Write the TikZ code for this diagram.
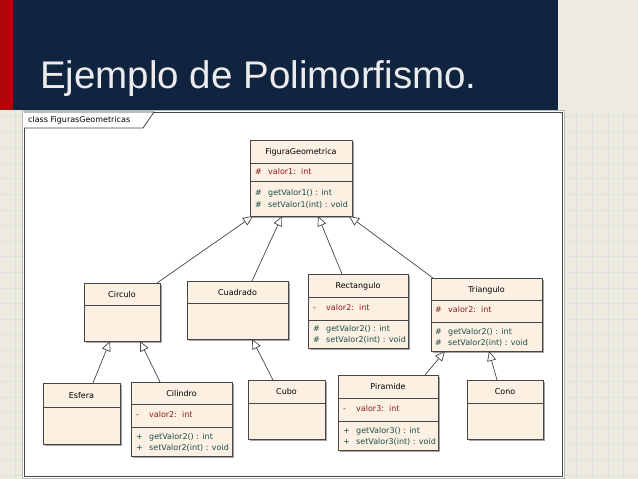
\documentclass[tikz,border=0pt]{standalone}
\usepackage{fontspec}
\setmainfont{Liberation Sans}
\newfontfamily\umlfont{DejaVu Sans}
\usetikzlibrary{arrows.meta,shadows}
\definecolor{slidenavy}{RGB}{16,35,63}
\definecolor{slidered}{RGB}{176,8,8}
\definecolor{paperbeige}{RGB}{237,234,223}
\definecolor{gridblue}{RGB}{221,225,228}
\definecolor{boxfill}{RGB}{251,240,226}
\definecolor{boxline}{RGB}{70,70,70}
\definecolor{attrred}{RGB}{140,28,28}
\definecolor{opteal}{RGB}{28,78,72}
\tikzset{
  umlbox/.style={draw=boxline, line width=0.9pt, fill=boxfill, inner sep=0pt, outer sep=0pt,
    drop shadow={shadow xshift=2pt, shadow yshift=-2pt, fill=black!50, opacity=0.7}},
  umlline/.style={draw=boxline, line width=0.8pt},
  umltext/.style={font=\umlfont\fontsize{8}{9}\selectfont, inner sep=0pt},
  attrtext/.style={umltext, text=attrred, anchor=mid west},
  optext/.style={umltext, text=opteal, anchor=mid west},
  inherit/.style={draw=boxline, line width=0.7pt, -{Triangle[length=10pt, width=9pt, fill=white]}}
}
\begin{document}
\begin{tikzpicture}[x=1pt,y=-1pt]
\useasboundingbox (0,0) rectangle (638,479);
% slide background
\fill[paperbeige] (0,0) rectangle (638,479);
\foreach \gx in {15,30.6,...,638} \draw[gridblue, line width=0.5pt] (\gx,110) -- (\gx,479);
\foreach \gy in {116.2,131.8,...,479} \draw[gridblue, line width=0.5pt] (0,\gy) -- (638,\gy);
\fill[slidenavy] (13,0) rectangle (558,110);
\fill[slidered] (0,0) rectangle (13,110);
\node[anchor=base west, inner sep=0pt, text={rgb,255:red,236;green,236;blue,236},
  font=\fontsize{38.5}{44}\selectfont] (title) at (40,88) {Ejemplo de Polimorfismo.};
% diagram frame
\draw[gray!55, fill=white] (22,110) rectangle (564,478);
\draw[boxline, line width=0.8pt] (24,112) rectangle (562,476);
\draw[boxline, line width=0.8pt, fill=white] (24,112) -- (154,112) -- (143,128) -- (24,128);
\node[umltext, anchor=mid west] (pkg) at (28,120) {class FigurasGeometricas};
% FiguraGeometrica
\node[umlbox, minimum width=102pt, minimum height=76pt] (fg) at (301,178) {};
\draw[umlline] (250,163) -- (352,163);
\draw[umlline] (250,181) -- (352,181);
\node[umltext, anchor=mid] (fg-name) at (301,152) {FiguraGeometrica};
\node[attrtext] (fg-v1) at (255,172) {\#};
\node[attrtext] (fg-a1) at (268,172) {valor1:\ \ int};
\node[optext] (fg-v2) at (255,193) {\#};
\node[optext] (fg-m1) at (268,193) {getValor1() : int};
\node[optext] (fg-v3) at (255,205) {\#};
\node[optext] (fg-m2) at (268,205) {setValor1(int) : void};
% Circulo
\node[umlbox, minimum width=76pt, minimum height=58pt] (circulo) at (122,312) {};
\draw[umlline] (84,305) -- (160,305);
\node[umltext, anchor=mid] (circulo-name) at (122,295) {Circulo};
% Cuadrado
\node[umlbox, minimum width=101pt, minimum height=58pt] (cuadrado) at (237.5,310) {};
\draw[umlline] (187,303) -- (288,303);
\node[umltext, anchor=mid] (cuadrado-name) at (237.5,293) {Cuadrado};
% Rectangulo
\node[umlbox, minimum width=100pt, minimum height=74pt] (rectangulo) at (358,311) {};
\draw[umlline] (308,297) -- (408,297);
\draw[umlline] (308,320) -- (408,320);
\node[umltext, anchor=mid] (rectangulo-name) at (358,286) {Rectangulo};
\node[attrtext] (rectangulo-v1) at (313,308) {-};
\node[attrtext] (rectangulo-a1) at (326,308) {valor2:\ \ int};
\node[optext] (rectangulo-v2) at (313,329) {\#};
\node[optext] (rectangulo-m1) at (326,329) {getValor2() : int};
\node[optext] (rectangulo-v3) at (313,340) {\#};
\node[optext] (rectangulo-m2) at (326,340) {setValor2(int) : void};
% Triangulo
\node[umlbox, minimum width=111pt, minimum height=73pt] (triangulo) at (486.5,314.5) {};
\draw[umlline] (431,300) -- (542,300);
\draw[umlline] (431,322) -- (542,322);
\node[umltext, anchor=mid] (triangulo-name) at (486.5,290) {Triangulo};
\node[attrtext] (triangulo-v1) at (435,310) {\#};
\node[attrtext] (triangulo-a1) at (448,310) {valor2:\ \ int};
\node[optext] (triangulo-v2) at (435,332) {\#};
\node[optext] (triangulo-m1) at (448,332) {getValor2() : int};
\node[optext] (triangulo-v3) at (435,343) {\#};
\node[optext] (triangulo-m2) at (448,343) {setValor2(int) : void};
% Esfera
\node[umlbox, minimum width=77pt, minimum height=61pt] (esfera) at (81.5,413.5) {};
\draw[umlline] (43,407) -- (120,407);
\node[umltext, anchor=mid] (esfera-name) at (81.5,396) {Esfera};
% Cilindro
\node[umlbox, minimum width=101pt, minimum height=74pt] (cilindro) at (181.5,419) {};
\draw[umlline] (131,404) -- (232,404);
\draw[umlline] (131,427) -- (232,427);
\node[umltext, anchor=mid] (cilindro-name) at (181.5,394) {Cilindro};
\node[attrtext] (cilindro-v1) at (136,415) {-};
\node[attrtext] (cilindro-a1) at (149,415) {valor2:\ \ int};
\node[optext] (cilindro-v2) at (136,437) {+};
\node[optext] (cilindro-m1) at (149,437) {getValor2() : int};
\node[optext] (cilindro-v3) at (136,448) {+};
\node[optext] (cilindro-m2) at (149,448) {setValor2(int) : void};
% Cubo
\node[umlbox, minimum width=77pt, minimum height=59pt] (cubo) at (286.5,409.5) {};
\draw[umlline] (248,403) -- (325,403);
\node[umltext, anchor=mid] (cubo-name) at (286.5,392) {Cubo};
% Piramide
\node[umlbox, minimum width=100pt, minimum height=75pt] (piramide) at (388,412.5) {};
\draw[umlline] (338,398) -- (438,398);
\draw[umlline] (338,421) -- (438,421);
\node[umltext, anchor=mid] (piramide-name) at (388,387) {Piramide};
\node[attrtext] (piramide-v1) at (343,409) {-};
\node[attrtext] (piramide-a1) at (356,409) {valor3:\ \ int};
\node[optext] (piramide-v2) at (343,431) {+};
\node[optext] (piramide-m1) at (356,431) {getValor3() : int};
\node[optext] (piramide-v3) at (343,442) {+};
\node[optext] (piramide-m2) at (356,442) {setValor3(int) : void};
% Cono
\node[umlbox, minimum width=76pt, minimum height=59pt] (cono) at (505,409.5) {};
\draw[umlline] (467,403) -- (543,403);
\node[umltext, anchor=mid] (cono-name) at (505,392) {Cono};
% generalizations
\draw[inherit] ([xshift=-3]circulo.north east) -- ([xshift=3]fg.south west);
\draw[inherit] ([xshift=14.5]cuadrado.north) -- ([xshift=-19]fg.south);
\draw[inherit] ([xshift=-16]rectangulo.north) -- ([xshift=17]fg.south);
\draw[inherit] ([xshift=2]triangulo.north west) -- ([xshift=-3]fg.south east);
\draw[inherit] ([xshift=11.5]esfera.north) -- ([xshift=-12]circulo.south);
\draw[inherit] ([xshift=-21.5]cilindro.north) -- ([xshift=18]circulo.south);
\draw[inherit] ([xshift=-13.5]cubo.north) -- ([xshift=14.5]cuadrado.south);
\draw[inherit] ([xshift=37]piramide.north) -- ([xshift=-41.5]triangulo.south);
\draw[inherit] ([xshift=-8]cono.north) -- ([xshift=2.5]triangulo.south);
\end{tikzpicture}
\end{document}
